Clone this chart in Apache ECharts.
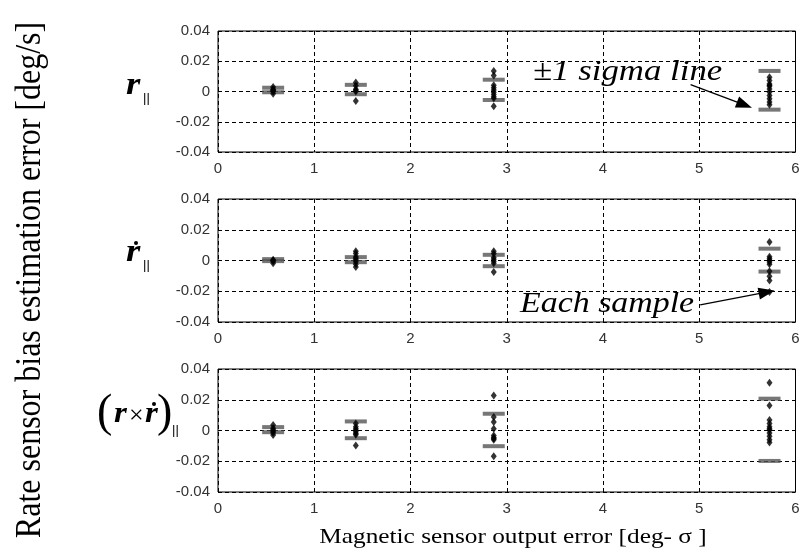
<!DOCTYPE html>
<html><head><meta charset="utf-8">
<script src="https://cdn.jsdelivr.net/npm/echarts@6/dist/echarts.min.js"></script>
<style>html,body{margin:0;padding:0;background:#fff}#c{width:803px;height:558px}</style>
</head><body><div id="c"></div>
<script>
// ---- data ----
const xPositions = [0.573, 1.432, 2.865, 5.73];
const xTickLabels = ['0','1','2','3','4','5','6'];
const yTickLabels = ['-0.04','-0.02','0','0.02','0.04'];

// Panel 1: r_||
const p1Samples = [
  [0.003, 0.0015, 0.001, 0.0005, 0, -0.0015],
  [0.006, 0.0038, 0.0015, 0.0008, 0, -0.0062],
  [0.0135, 0.0105, 0.0042, 0.0025, 0.001, -0.0005, -0.002, -0.0035, -0.0045, -0.0098],
  [0.0094, 0.0072, 0.005, 0.0042, 0.0035, 0.0017, -0.0004, -0.0026, -0.0048, -0.007, -0.0088]
];
const p1SigmaUp = [0.0025, 0.0044, 0.0078, 0.0136];
const p1SigmaLo = [-0.0005, -0.0018, -0.0056, -0.012];

// Panel 2: r-dot_||
const p2Samples = [
  [0.0005, 0, -0.0005, -0.0018],
  [0.006, 0.0046, 0.0025, 0.0015, 0.0005, -0.0008, -0.0025, -0.0042],
  [0.006, 0.0045, 0.002, 0.0008, -0.0005, -0.0018, -0.0074],
  [0.0121, 0.0025, 0.0012, 0, -0.001, -0.0025, -0.007, -0.0102, -0.013, -0.0205]
];
const p2SigmaUp = [0.0009, 0.0022, 0.0037, 0.0077];
const p2SigmaLo = [-0.0004, -0.0011, -0.0037, -0.0072];

// Panel 3: (r x r-dot)_||
const p3Samples = [
  [0.0035, 0.0015, 0.0005, -0.0005, -0.0015, -0.003],
  [0.0045, 0.0025, 0.0012, 0.0002, -0.0008, -0.002, -0.0028, -0.0098],
  [0.0228, 0.0088, 0.0055, 0.0012, -0.0032, -0.0045, -0.0052, -0.006, -0.0167],
  [0.031, 0.0162, 0.0068, 0.0045, 0.0025, 0.0012, 0.0003, -0.0017, -0.0038, -0.006, -0.0078]
];
const p3SigmaUp = [0.0022, 0.0059, 0.0109, 0.0207];
const p3SigmaLo = [-0.0011, -0.005, -0.0102, -0.0198];

// annotation arrows (data coords)
const sigmaArrow = [[4.91, 0.0046], [5.47, -0.0088]];
const sampleArrow = [[5.01, -0.0288], [5.70, -0.0205]];

// ---- build ----
const panels = [
  {samples: p1Samples, up: p1SigmaUp, lo: p1SigmaLo, top: 31, height: 121},
  {samples: p2Samples, up: p2SigmaUp, lo: p2SigmaLo, top: 199, height: 123},
  {samples: p3Samples, up: p3SigmaUp, lo: p3SigmaLo, top: 369, height: 123}
];
const grids = [], xAxes = [], yAxes = [], series = [];
const serif = '"Liberation Serif", "Times New Roman", serif';
const sans = '"Liberation Sans", Arial, sans-serif';
panels.forEach((p, i) => {
  grids.push({left: 218, right: 7.5, top: p.top, height: p.height, show: true, borderColor: '#000', borderWidth: 1, backgroundColor: 'transparent'});
  xAxes.push({type: 'value', gridIndex: i, min: 0, max: 6, interval: 1,
    axisLine: {show: false}, axisTick: {show: false},
    splitLine: {show: true, lineStyle: {color: '#000', type: [4, 3], width: 1}},
    axisLabel: {fontFamily: sans, fontSize: 15, color: '#333', margin: 9,
      formatter: (v) => xTickLabels[Math.round(v)]}});
  yAxes.push({type: 'value', gridIndex: i, min: -0.04, max: 0.04, interval: 0.02,
    axisLine: {show: false}, axisTick: {show: false},
    splitLine: {show: true, lineStyle: {color: '#000', type: [4, 3], width: 1}},
    axisLabel: {fontFamily: sans, fontSize: 15, color: '#333', margin: 8,
      formatter: (v) => yTickLabels[Math.round((v + 0.04) / 0.02)]}});
  const sig = [];
  xPositions.forEach((x, g) => { sig.push([x, p.up[g]]); sig.push([x, p.lo[g]]); });
  series.push({type: 'scatter', xAxisIndex: i, yAxisIndex: i, data: sig,
    symbol: 'rect', symbolSize: [22, 4], itemStyle: {color: '#555'}, silent: true, z: 3});
  const pts = [];
  xPositions.forEach((x, g) => p.samples[g].forEach(v => pts.push([x, v])));
  const s = {type: 'scatter', xAxisIndex: i, yAxisIndex: i, data: pts,
    symbol: 'diamond', symbolSize: [6, 8], itemStyle: {color: '#000'}, silent: true, z: 4};
  const arrow = i === 0 ? sigmaArrow : (i === 1 ? sampleArrow : null);
  if (arrow) {
    s.markLine = {silent: true, symbol: ['none', 'triangle'], symbolSize: [12, 16],
      lineStyle: {color: '#000', width: 1.3, type: 'solid'}, label: {show: false},
      emphasis: {disabled: true},
      data: [[{coord: arrow[0]}, {coord: arrow[1]}]]};
  }
  series.push(s);
});

function T(x, y, text, font, extra) {
  return Object.assign({type: 'text', x: x, y: y,
    style: {text: text, font: font, fill: '#000', align: 'left', verticalAlign: 'middle'}}, extra || {});
}
const graphic = [
  {type: 'text', x: 30, y: 280, rotation: Math.PI / 2, scaleY: 1.15,
    style: {text: 'Rate sensor bias estimation error [deg/s]', font: '32px ' + serif, fill: '#000', align: 'center', verticalAlign: 'middle'}},
  {type: 'text', x: 513, y: 537, scaleX: 1.15,
    style: {text: 'Magnetic sensor output error [deg- \u03C3 ]', font: '22px ' + serif, fill: '#000', align: 'center', verticalAlign: 'middle'}},
  T(533, 72, '\u00B11 sigma line', 'italic 29px ' + serif, {scaleX: 1.2}),
  T(520, 304, 'Each sample', 'italic 30px ' + serif, {scaleX: 1.13}),
  // panel 1 label
  T(126, 86, 'r', 'italic bold 32px ' + serif, {scaleX: 1.15}),
  T(143, 98, '||', '13px ' + sans),
  // panel 2 label
  T(126, 253, 'r', 'italic bold 32px ' + serif, {scaleX: 1.15}),
  {type: 'circle', shape: {cx: 136, cy: 243, r: 2}, style: {fill: '#000'}},
  T(143, 265, '||', '13px ' + sans),
  // panel 3 label
  T(97, 414, '(', '46px ' + serif),
  T(114, 414, 'r', 'italic bold 30px ' + serif, {scaleX: 1.1}),
  T(129, 416, '\u00D7', '26px ' + serif),
  T(145, 414, 'r', 'italic bold 30px ' + serif, {scaleX: 1.1}),
  {type: 'circle', shape: {cx: 154, cy: 404, r: 2}, style: {fill: '#000'}},
  T(157, 414, ')', '46px ' + serif),
  T(172, 430, '||', '13px ' + sans)
];

const chart = echarts.init(document.getElementById('c'), null, {renderer: 'canvas'});
chart.setOption({animation: false, backgroundColor: '#fff', grid: grids, xAxis: xAxes, yAxis: yAxes, series: series, graphic: graphic});
</script></body></html>
